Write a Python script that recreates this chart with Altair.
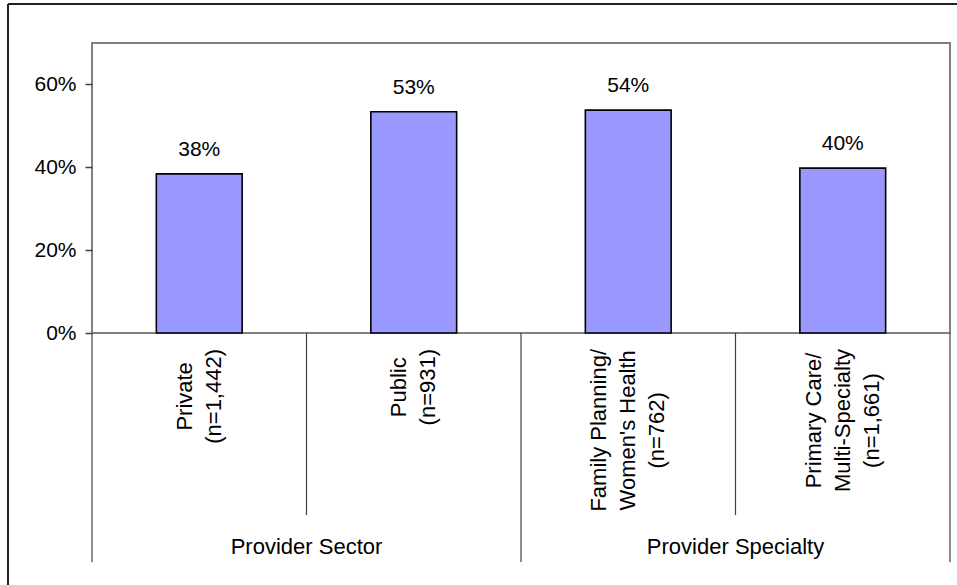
import altair as alt
import pandas as pd

categories = [
    "Private\n(n=1,442)",
    "Public\n(n=931)",
    "Family Planning/\nWomen's Health\n(n=762)",
    "Primary Care/\nMulti-Specialty\n(n=1,661)",
]
groups = ["Provider Sector", "Provider Sector", "Provider Specialty", "Provider Specialty"]
values = [0.384, 0.534, 0.538, 0.398]
y_ticks = [0, 0.2, 0.4, 0.6]

W, H = 858, 290
FONT = "Liberation Sans"
CAT_FS = 22
LINE_H = 29

# approximate Arial advance widths (per 1000 em) to centre the rotated label lines
ARIAL = {" ": 278, "(": 333, ")": 333, ",": 278, "-": 333, "/": 278, "=": 584, "'": 191,
         "P": 667, "F": 611, "W": 944, "M": 833, "S": 667, "C": 722,
         "a": 556, "b": 556, "c": 500, "e": 556, "g": 556, "h": 556, "i": 222, "l": 222,
         "m": 833, "n": 556, "o": 556, "p": 556, "r": 333, "s": 500, "t": 278, "u": 556,
         "v": 500, "y": 500}


def text_width(s, fs):
    return sum(ARIAL.get(ch, 556) for ch in s) * fs / 1000.0


df = pd.DataFrame({"cat": categories, "group": groups, "value": values})
df["first"] = ~df["group"].duplicated()
df["last"] = [i == len(df) - 1 for i in range(len(df))]
lines = [c.split("\n") for c in categories]
df["ypos"] = [306 + max(text_width(s, CAT_FS) for s in ls) / 2 for ls in lines]
df["nlines"] = [len(ls) for ls in lines]

xscale = alt.Scale(domain=categories, paddingInner=0, paddingOuter=0)
X = lambda **kw: alt.X("cat:N", scale=xscale, sort=categories, **kw)
base = alt.Chart(df)

bars = base.mark_bar(width={"band": 0.4}, color="#9999FF", stroke="#000000", strokeWidth=1.6).encode(
    x=X(axis=None),
    y=alt.Y("value:Q", scale=alt.Scale(domain=[0, 0.7]),
            axis=alt.Axis(values=y_ticks, format=".0%", title=None, grid=False, domain=False,
                          tickSize=7, tickColor="#404040", tickWidth=1.5,
                          labelFontSize=21, labelFont=FONT, labelColor="#000000", labelPadding=9)),
)

bar_labels = base.mark_text(baseline="bottom", dy=-14, fontSize=21, font=FONT, color="#000000").encode(
    x=X(),
    y=alt.Y("value:Q"),
    text=alt.Text("value:Q", format=".0%"),
)

# one layer per line count so that the stacked lines are centred on the band
cat_layers = []
for n in sorted(set(df["nlines"])):
    cat_layers.append(
        base.transform_filter(f"datum.nlines == {n}").mark_text(
            angle=270, align="center", baseline="middle", lineBreak="\n",
            lineHeight=LINE_H, dy=-(n - 1) * LINE_H / 2,
            fontSize=CAT_FS, font=FONT, color="#000000").encode(
            x=X(),
            y=alt.Y("ypos:Q", scale=None, axis=None),
            text="cat:N",
        )
    )

rule_style = dict(color="#404040", strokeWidth=1.2)
long_rules = base.transform_filter("datum.first").mark_rule(**rule_style).encode(
    x=X(bandPosition=0), y=alt.value(H), y2=alt.value(519),
)
end_rule = base.transform_filter("datum.last").mark_rule(**rule_style).encode(
    x=X(bandPosition=1), y=alt.value(H), y2=alt.value(519),
)
short_rules = base.transform_filter("!datum.first").mark_rule(**rule_style).encode(
    x=X(bandPosition=0), y=alt.value(H), y2=alt.value(472),
)

group_labels = base.transform_filter("datum.first").mark_text(
    baseline="middle", fontSize=CAT_FS, font=FONT, color="#000000").encode(
    x=X(bandPosition=1),
    y=alt.value(504),
    text="group:N",
)

frame_v = base.mark_rule(color="#222222", strokeWidth=1.5).encode(
    x=alt.value(-84), y=alt.value(-39), y2=alt.value(560))
frame_h = base.mark_rule(color="#222222", strokeWidth=1.5).encode(
    x=alt.value(-84), x2=alt.value(880), y=alt.value(-39))

chart = alt.layer(
    bars, bar_labels, *cat_layers, long_rules, end_rule, short_rules, group_labels, frame_v, frame_h
).properties(
    width=W, height=H,
    autosize="none",
    padding={"left": 92, "top": 43, "right": 7, "bottom": 252},
    background="#ffffff",
).configure_view(stroke="#808080", strokeWidth=2)

chart.save("out.html", embed_options={"renderer": "svg", "actions": False})
